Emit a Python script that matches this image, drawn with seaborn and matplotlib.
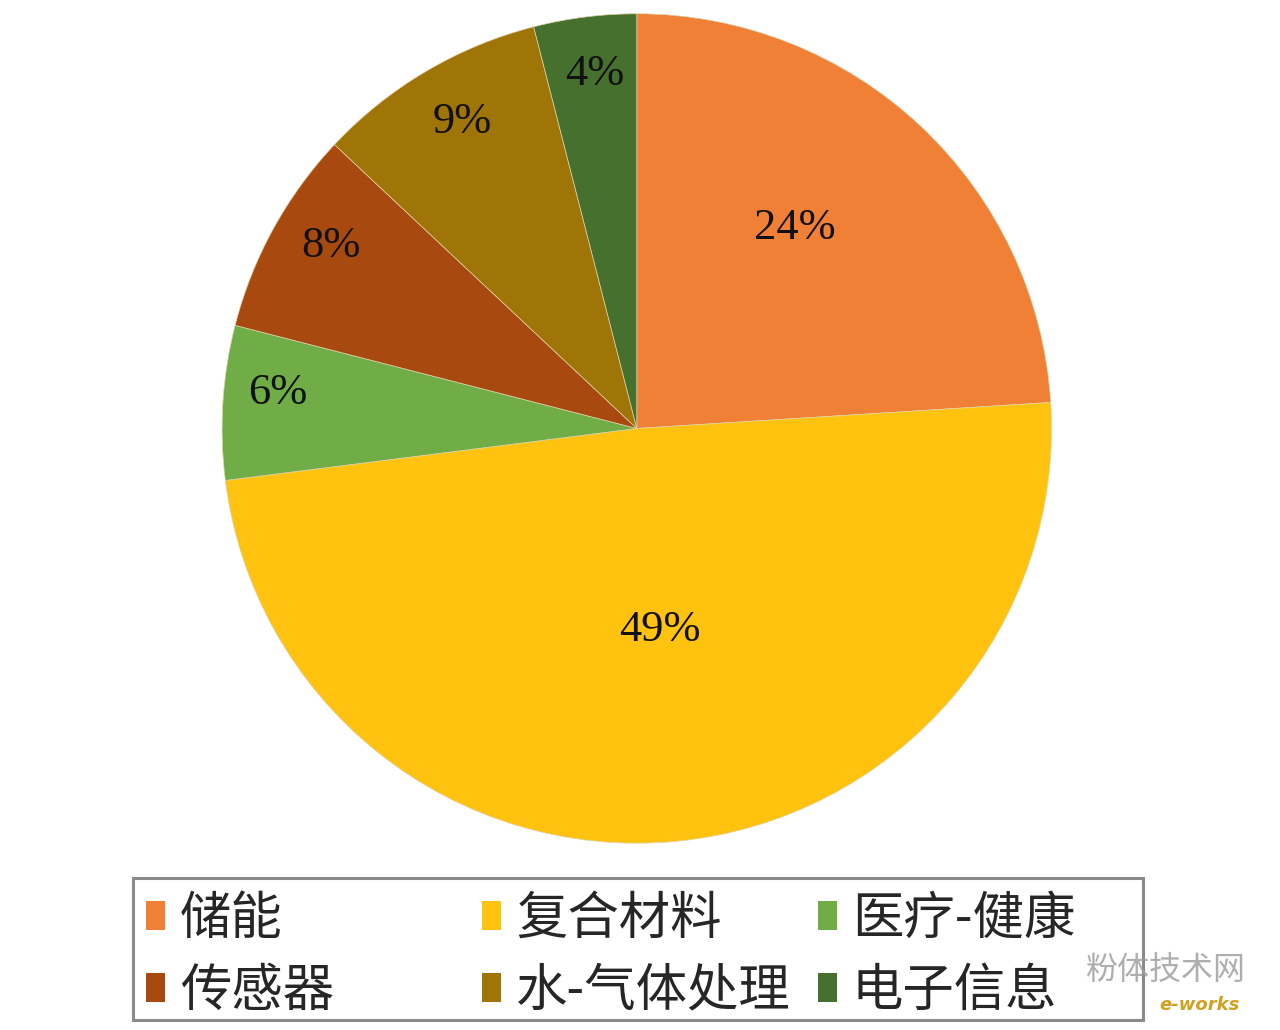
import numpy as np
import matplotlib
matplotlib.use("Agg")
import matplotlib.pyplot as plt
from matplotlib.patches import Patch, Rectangle
import seaborn as sns

# ---- data ----
categories = ["储能", "复合材料", "医疗-健康", "传感器", "水-气体处理", "电子信息"]
values = [24, 49, 6, 8, 9, 4]
pct_labels = ["24%", "49%", "6%", "8%", "9%", "4%"]
colors = ["#EF8036", "#FFC20E", "#70AD47", "#A84A10", "#A07508", "#46702E"]
label_radius = [0.615, 0.49, 0.87, 0.86, 0.85, 0.86]
label_angle_shift = [5.0, 1.0, -2.0, -2.0, -1.0, -0.5]
# legend columns (row-major in reference): col1 = 储能/传感器, col2 = 复合材料/水-气体处理, col3 = 医疗-健康/电子信息
legend_columns = [[0, 3], [1, 4], [2, 5]]

sns.set_theme(style="white")
plt.rcParams['font.family'] = ['Noto Sans CJK SC', 'DejaVu Sans']

W, H = 1280, 1030
fig = plt.figure(figsize=(12.8, 10.3), dpi=100)
ax = fig.add_axes([0.1735, 0.181, 0.648, 0.806])

wedges, _ = ax.pie(values, colors=colors, startangle=90, counterclock=False,
                   wedgeprops=dict(edgecolor="#e0d2a8", linewidth=0.5))
ax.set_aspect("equal")
ax.set_xlim(-1.0, 1.0)
ax.set_ylim(-1.0, 1.0)
ax.axis("off")

for w, lab, r, da in zip(wedges, pct_labels, label_radius, label_angle_shift):
    ang = np.deg2rad((w.theta1 + w.theta2) / 2 + da)
    ax.text(r * np.cos(ang), r * np.sin(ang), lab, ha="center", va="center",
            fontsize=32, color="#111111", family=["Liberation Serif", "DejaVu Serif"])

# legend frame
fig.add_artist(Rectangle((133 / W, 10 / H), 1010 / W, 142 / H, transform=fig.transFigure,
                         fill=False, edgecolor="#8a8a8a", linewidth=2.2))

col_x = [146, 482, 818]
for cx, idxs in zip(col_x, legend_columns):
    handles = [Patch(facecolor=colors[i], edgecolor="none") for i in idxs]
    labels = [categories[i] for i in idxs]
    fig.legend(handles, labels, loc="center left",
               bbox_to_anchor=(cx / W, (H - 955) / H),
               fontsize=37, frameon=False, borderaxespad=0, borderpad=0,
               handlelength=0.36, handleheight=0.5, handletextpad=0.3,
               labelspacing=0.36)

fig.text(1085 / W, (H - 970) / H, "粉体技术网", fontsize=23, color="#a0a0a0", alpha=0.85,
         ha="left", va="center")
fig.text(1240 / W, (H - 1005) / H, "e-works", fontsize=13, color="#d0a020", style="italic",
         fontweight="bold", ha="right", va="center", family=["DejaVu Sans"])

fig.savefig("out.png", dpi=100, facecolor="white")
